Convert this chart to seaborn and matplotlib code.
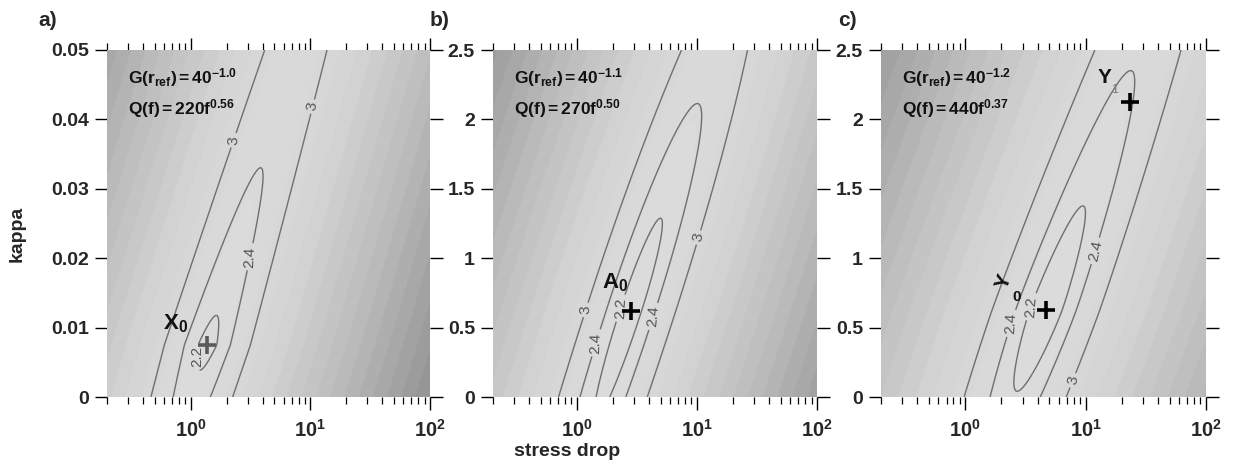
import numpy as np
import matplotlib
matplotlib.use("Agg")
import matplotlib.pyplot as plt
from matplotlib.colors import LinearSegmentedColormap
from matplotlib.ticker import FixedLocator, LogLocator, NullFormatter
import seaborn as sns

# ---------------- data ----------------
panel_tags = ["a)", "b)", "c)"]
kappa_max = [0.05, 2.5, 2.5]
kappa_ticks = [[0, 0.01, 0.02, 0.03, 0.04, 0.05], [0, 0.5, 1, 1.5, 2, 2.5], [0, 0.5, 1, 1.5, 2, 2.5]]
kappa_ticklabels = [["0", "0.01", "0.02", "0.03", "0.04", "0.05"],
                    ["0", "0.5", "1", "1.5", "2", "2.5"],
                    ["0", "0.5", "1", "1.5", "2", "2.5"]]
sd_ticks = [1, 10, 100]
sd_ticklabels = [r"$\mathbf{10^{0}}$", r"$\mathbf{10^{1}}$", r"$\mathbf{10^{2}}$"]
g_exponent = ["-1.0", "-1.1", "-1.2"]
q_coef = ["220", "270", "440"]
q_exp = ["0.56", "0.50", "0.37"]

# misfit surface description per panel (best fit + valley shape)
best_sd = [1.38, 2.8, 4.7]
best_kappa = [0.0075, 0.62, 0.63]
min_misfit = [2.16, 2.15, 2.12]
valley_slope = [0.87, 0.93, 1.02]      # decades of stress drop per full kappa range
across_curv = [6.5, 6.0, 4.4]
along_up = [0.47, 0.70, 0.49]
along_dn = [0.55, 0.50, 0.70]
along_pow = [1.0, 2.0, 1.5]
contour_levels = [2.2, 2.4, 3.0]

# extra best-fit point in panel c (Y1)
extra_sd = [23.3]
extra_kappa = [2.125]

# ---------------- style ----------------
sns.set_theme(style="white")
plt.rcParams["font.family"] = ["Liberation Sans", "DejaVu Sans"]
plt.rcParams["mathtext.fontset"] = "custom"
plt.rcParams["mathtext.rm"] = "Liberation Sans"
plt.rcParams["mathtext.bf"] = "Liberation Sans:bold"
plt.rcParams["mathtext.it"] = "Liberation Sans:italic"

shade_cmap = LinearSegmentedColormap.from_list(
    "g", [(0.0, "#dedede"), (0.25, "#d4d4d4"), (0.5, "#bdbdbd"), (0.78, "#9c9c9c"), (1.0, "#828282")])

fig = plt.figure(figsize=(12.34, 4.76), dpi=100)
lefts = [107, 493, 881]
widths = [323, 324, 325]
W, H = 1234, 476
bottom = (H - 397) / H
height = 347 / H

# label placements (layout only)
clabel_pos = [
    [(1.78, 0.037), (11.0, 0.0418), (3.0, 0.0202), (1.17, 0.0058)],
    [(1.17, 0.627), (11.2, 1.145), (1.5, 0.39), (2.2, 0.64), (4.5, 0.58)],
    [(2.7, 0.53), (3.9, 0.65), (10.8, 1.06), (7.8, 0.12)],
]
tag_x = [38, 430, 838]

for i in range(3):
    ax = fig.add_axes([lefts[i] / W, bottom, widths[i] / W, height])
    sd = np.logspace(np.log10(0.2), 2, 500)
    kp = np.linspace(0, kappa_max[i], 400)
    SD, K = np.meshgrid(sd, kp)
    X = np.log10(SD)
    Y = K / kappa_max[i]
    Xb = np.log10(best_sd[i])
    Yb = best_kappa[i] / kappa_max[i]
    c = X - (Xb + valley_slope[i] * (Y - Yb))
    t = Y - Yb
    along = np.where(t >= 0, along_up[i], along_dn[i]) * np.abs(t) ** along_pow[i]
    M = min_misfit[i] + across_curv[i] * c ** 2 + along

    shade = np.sqrt(np.clip(M - 2.0, 0, None))
    ax.contourf(SD, K, shade, levels=np.arange(0, 6.01, 0.3), cmap=shade_cmap, vmin=0, vmax=6.0, extend="max")
    cs = ax.contour(SD, K, M, levels=contour_levels, colors="#6f6f6f", linewidths=1.0)
    ax.clabel(cs, fmt={2.2: "2.2", 2.4: "2.4", 3.0: "3"}, fontsize=11, colors="#555555",
              manual=clabel_pos[i], inline=True, inline_spacing=3)

    sns.scatterplot(x=[best_sd[i]], y=[best_kappa[i]], marker="+", s=170, linewidth=2.6,
                    color="#5a5a5a" if i == 0 else "black", ax=ax, legend=False, zorder=5)
    if i == 2:
        sns.scatterplot(x=extra_sd, y=extra_kappa, marker="+", s=170, linewidth=2.6,
                        color="black", ax=ax, legend=False, zorder=5)

    ax.set_xscale("log")
    ax.set_xlim(0.2, 100)
    ax.set_ylim(0, kappa_max[i])
    ax.xaxis.set_major_locator(FixedLocator(sd_ticks))
    ax.set_xticklabels(sd_ticklabels, fontsize=14.5)
    ax.xaxis.set_minor_locator(LogLocator(base=10, subs=np.arange(2, 10), numticks=20))
    ax.xaxis.set_minor_formatter(NullFormatter())
    ax.set_yticks(kappa_ticks[i])
    ax.set_yticklabels(kappa_ticklabels[i], fontsize=14, fontweight="bold")
    ax.tick_params(axis="both", which="major", direction="out", top=True, right=True,
                   bottom=True, left=True, length=9, width=1.0, color="black")
    ax.tick_params(axis="x", which="major", pad=7)
    ax.tick_params(axis="y", which="major", pad=4)
    ax.tick_params(axis="x", which="minor", direction="out", top=True, bottom=True,
                   length=5, width=0.9, color="black")
    for s in ax.spines.values():
        s.set_visible(False)

    ax.text(0.065, 0.905, r"$\mathbf{G(r_{ref})=40^{%s}}$" % g_exponent[i], transform=ax.transAxes,
            fontsize=12.5, va="baseline", ha="left", color="#111111")
    ax.text(0.065, 0.813, r"$\mathbf{Q(f)=%sf^{%s}}$" % (q_coef[i], q_exp[i]), transform=ax.transAxes,
            fontsize=12.5, va="baseline", ha="left", color="#111111")

    if i == 0:
        ax.text(0.75, 0.0105, r"$\mathbf{X_0}$", fontsize=16, ha="center", va="center", color="#111111")
    elif i == 1:
        ax.text(2.07, 0.82, r"$\mathbf{A_0}$", fontsize=16, ha="center", va="center", color="#111111")
    else:
        ax.text(2.11, 0.83, "Y", fontsize=15, fontweight="bold", rotation=70,
                ha="center", va="center", color="#111111")
        ax.text(2.66, 0.72, "0", fontsize=11, fontweight="bold", ha="center", va="center", color="#111111")
        ax.text(14.4, 2.305, "Y", fontsize=15, fontweight="bold", ha="center", va="center", color="#111111")
        ax.text(17.4, 2.21, "1", fontsize=9, ha="center", va="center", color="#777777")

    fig.text(tag_x[i] / W, 1 - 21 / H, panel_tags[i], fontsize=15, fontweight="bold",
             ha="left", va="center")

fig.text(17 / W, 1 - 234 / H, "kappa", rotation=90, fontsize=14, fontweight="bold", ha="center", va="center")
fig.text(567 / W, 1 - 452 / H, "stress drop", fontsize=14, fontweight="bold", ha="center", va="center")

fig.savefig("out.png", dpi=100)
